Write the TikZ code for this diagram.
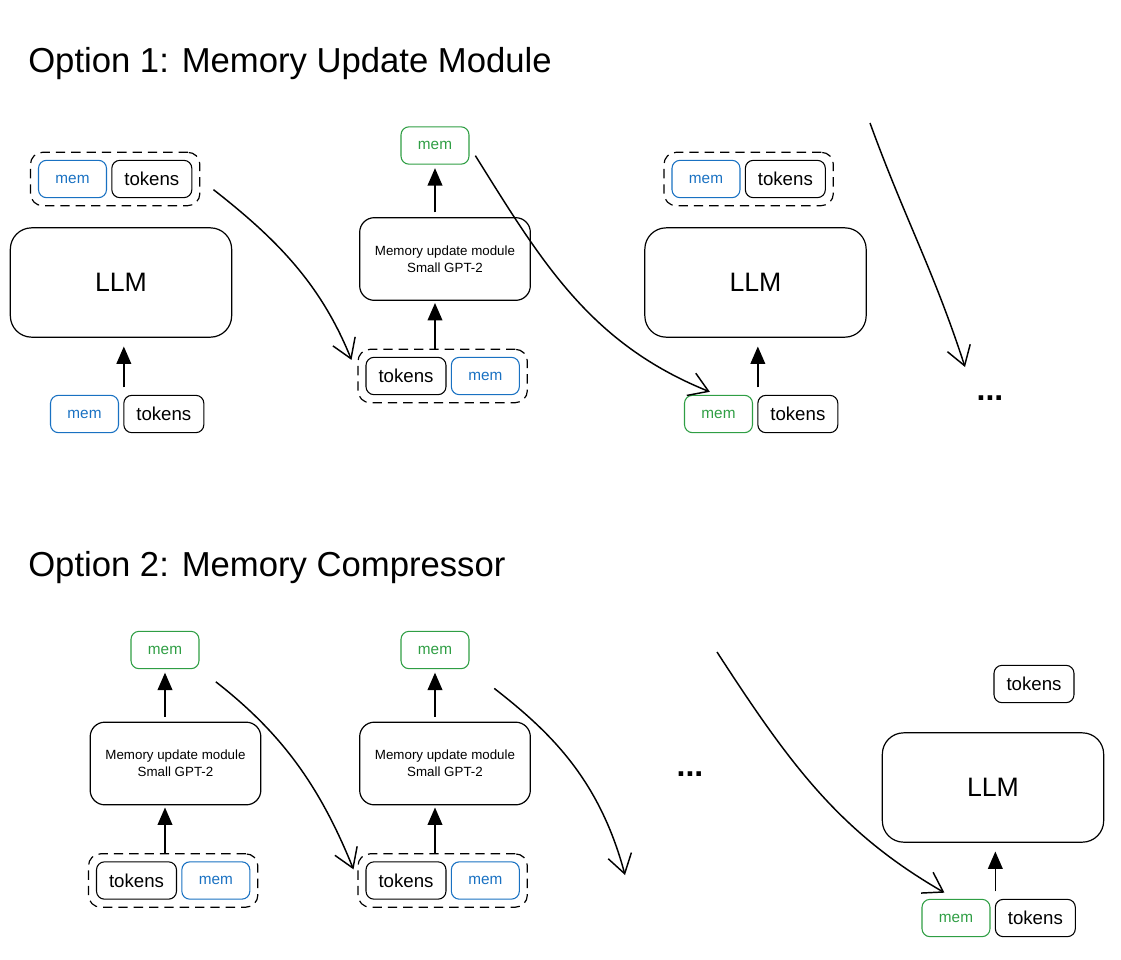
\documentclass[tikz,border=0pt]{standalone}
\usepackage{fontspec}
\setmainfont{Liberation Sans}
\usetikzlibrary{arrows.meta,positioning,fit}
\definecolor{memblue}{HTML}{1971C2}
\definecolor{memgreen}{HTML}{2F9E44}
\tikzset{
  box/.style={draw, rounded corners=6pt, line width=0.8pt, minimum height=28pt, inner sep=0pt, outer sep=0pt},
  bluemem/.style={box, minimum width=51pt, draw=memblue, text=memblue, font=\fontsize{11.5}{13}\selectfont},
  greenmem/.style={box, minimum width=51pt, draw=memgreen, text=memgreen, font=\fontsize{11.5}{13}\selectfont},
  tokbox/.style={box, minimum width=60pt, font=\fontsize{14}{16}\selectfont},
  llmbox/.style={draw, rounded corners=16pt, line width=0.9pt, minimum width=166pt, minimum height=82pt, outer sep=0pt, font=\fontsize{20}{24}\selectfont},
  mumbox/.style={draw, rounded corners=11pt, line width=0.9pt, minimum width=128pt, minimum height=62pt, outer sep=0pt, align=center, font=\fontsize{10}{12.75}\selectfont},
  grp/.style={draw, dash pattern=on 7pt off 4.5pt, rounded corners=9pt, line width=0.9pt, inner sep=6pt, outer sep=0pt},
  uparr/.style={-{Triangle[length=13pt,width=11pt]}, line width=1.1pt, shorten <=6pt, shorten >=7pt},
  flow/.style={-{Straight Barb[length=14pt,width=18pt]}, line width=1.1pt},
  title/.style={anchor=base west, inner sep=0pt, font=\fontsize{26}{30}\selectfont},
  dots/.style={font=\fontsize{24}{28}\selectfont\bfseries}
}
\begin{document}
\begin{tikzpicture}[x=0.75pt, y=0.75pt]
    \useasboundingbox (0,0) rectangle (1121,-960);

    % 1. Titles
    \node[title] (t1title) at (28,-72) {Option 1: Memory Update Module};
    \node[title] (t2title) at (28,-576) {Option 2: Memory Compressor};

    % 2. Option 1, first LLM step
    \node[bluemem] (m1) at (72.5,-179) {mem};
    \node[tokbox, right=4pt of m1] (t1) {tokens};
    \node[grp, fit=(m1)(t1)] (g1) {};
    \node[llmbox] (llm1) at (121,-282.5) {LLM};
    \node[bluemem] (m1b) at (84.5,-414) {mem};
    \node[tokbox, right=4pt of m1b] (t1b) {tokens};
    \draw[uparr] (t1b.north west) -- (t1b.north west |- llm1.south);

    % 3. Option 1, memory update module
    \node[greenmem] (m2) at (435,-145.5) {mem};
    \node[mumbox] (mum2) at (445,-259) {Memory update module\\Small GPT-2};
    \node[tokbox] (t2) at (406,-376) {tokens};
    \node[bluemem, right=4pt of t2] (m2b) {mem};
    \node[grp, fit=(t2)(m2b)] (g2) {};
    \draw[uparr, shorten <=0pt, shorten >=2pt] (m2.south |- g2.north) -- (m2.south |- mum2.south);
    \draw[uparr, shorten <=4pt, shorten >=3pt] (m2.south |- mum2.north) -- (m2.south);

    % 4. Option 1, second LLM step
    \node[bluemem] (m3) at (706,-179) {mem};
    \node[tokbox, right=4pt of m3] (t3) {tokens};
    \node[grp, fit=(m3)(t3)] (g3) {};
    \node[llmbox] (llm3) at (755.5,-282.5) {LLM};
    \node[greenmem] (m3b) at (718.5,-414) {mem};
    \node[tokbox, right=4pt of m3b] (t3b) {tokens};
    \draw[uparr] (t3b.north west) -- (t3b.north west |- llm3.south);
    \node[dots] (dots1) at (990,-398) {...};

    % 5. Option 1, flow arrows
    \coordinate (c1s) at (870,-123);
    \coordinate (c1e) at (965,-367);
    \draw[flow, shorten <=13pt, shorten >=13pt] (g1.east) to[out=-38, in=112] (g2.west);
    \draw[flow, shorten <=9pt, shorten >=7pt] (m2.east) to[out=-58, in=158] (m3b.north);
    \draw[flow] (c1s) to[out=-70, in=108] (c1e);

    % 6. Option 2, first memory update module
    \node[greenmem] (mA) at (165,-650) {mem};
    \node[mumbox] (mumA) at (175.5,-763.5) {Memory update module\\Small GPT-2};
    \node[tokbox] (tA) at (136.5,-880.5) {tokens};
    \node[bluemem, right=4pt of tA] (mA2) {mem};
    \node[grp, fit=(tA)(mA2)] (gA) {};
    \draw[uparr, shorten <=0pt, shorten >=2pt] (mA.south |- gA.north) -- (mA.south |- mumA.south);
    \draw[uparr, shorten <=4pt, shorten >=3pt] (mA.south |- mumA.north) -- (mA.south);

    % 7. Option 2, second memory update module
    \node[greenmem] (mB) at (435,-650) {mem};
    \node[mumbox] (mumB) at (445,-763.5) {Memory update module\\Small GPT-2};
    \node[tokbox] (tB) at (406,-880.5) {tokens};
    \node[bluemem, right=4pt of tB] (mB2) {mem};
    \node[grp, fit=(tB)(mB2)] (gB) {};
    \draw[uparr, shorten <=0pt, shorten >=2pt] (mB.south |- gB.north) -- (mB.south |- mumB.south);
    \draw[uparr, shorten <=4pt, shorten >=3pt] (mB.south |- mumB.north) -- (mB.south);
    \node[dots] (dots2) at (690,-774) {...};

    % 8. Option 2, final LLM step
    \node[tokbox] (tC) at (1034,-684) {tokens};
    \node[llmbox] (llmC) at (993,-787.5) {LLM};
    \node[greenmem] (mC) at (956,-918) {mem};
    \node[tokbox, right=4pt of mC] (tC2) {tokens};
    \draw[uparr] (tC2.north west) -- (tC2.north west |- llmC.south);

    % 9. Option 2, flow arrows
    \coordinate (c2e) at (625,-875);
    \coordinate (c3s) at (717,-652);
    \draw[flow, shorten <=16pt, shorten >=9pt] (mA.south east) to[out=-38, in=112] (gB.west);
    \draw[flow, shorten <=24pt] (mB.south east) to[out=-38, in=105] (c2e);
    \draw[flow, shorten >=10pt] (c3s) to[out=-57, in=150] (mC.north);
\end{tikzpicture}
\end{document}
